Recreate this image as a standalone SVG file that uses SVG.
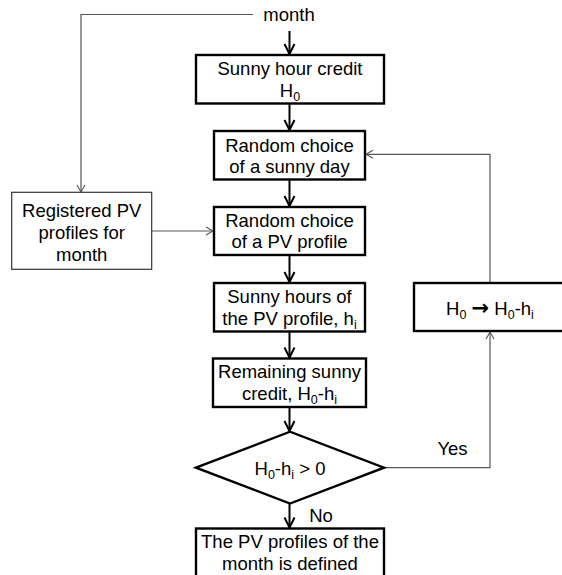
<svg xmlns="http://www.w3.org/2000/svg" width="562" height="575" viewBox="0 0 562 575">
<defs>
<style>
text{font-family:"Liberation Sans",Arial,sans-serif;font-size:18.5px;fill:#000;text-anchor:middle}
.sub{font-size:12.5px}
.arr{font-family:"DejaVu Sans","Liberation Sans",sans-serif;font-weight:bold;font-size:21px}
.box{fill:#fff;stroke:#000;stroke-width:2.4}
.thinbox{fill:#fff;stroke:#333;stroke-width:1.2}
.main{fill:none;stroke:#000;stroke-width:2}
.thin{fill:none;stroke:#555;stroke-width:1.2}
</style>
<marker id="ah" markerUnits="userSpaceOnUse" markerWidth="14" markerHeight="14" viewBox="-12 -7 14 14" refX="0" refY="0" orient="auto">
<path d="M-10,-5 L0,0 L-10,5" fill="none" stroke="#000" stroke-width="2"/>
</marker>
<marker id="ahs" markerUnits="userSpaceOnUse" markerWidth="12" markerHeight="12" viewBox="-10 -6 12 12" refX="0" refY="0" orient="auto">
<path d="M-7,-4 L0,0 L-7,4" fill="none" stroke="#555" stroke-width="1.1"/>
</marker>
</defs>

<g id="connectors">
<polyline class="thin" points="253,14.5 81,14.5 81,192" marker-end="url(#ahs)"/>
<line class="main" x1="289.5" y1="31" x2="289.5" y2="54" marker-end="url(#ah)"/>
<line class="main" x1="289.5" y1="104" x2="289.5" y2="130" marker-end="url(#ah)"/>
<line class="main" x1="289.5" y1="180" x2="289.5" y2="206" marker-end="url(#ah)"/>
<line class="thin" x1="152" y1="231" x2="213" y2="231" marker-end="url(#ahs)"/>
<line class="main" x1="289.5" y1="256" x2="289.5" y2="282" marker-end="url(#ah)"/>
<line class="main" x1="289.5" y1="332" x2="289.5" y2="357.5" marker-end="url(#ah)"/>
<line class="main" x1="289.5" y1="407.5" x2="289.5" y2="431" marker-end="url(#ah)"/>
<line class="main" x1="289.5" y1="504" x2="289.5" y2="527.5" marker-end="url(#ah)"/>
<polyline class="thin" points="385,467.7 490,467.7 490,332" marker-end="url(#ahs)"/>
<polyline class="thin" points="490,282 490,154.3 366,154.3" marker-end="url(#ahs)"/>
<text x="452.5" y="455">Yes</text>
<text x="321" y="522">No</text>
</g>

<g id="month">
<text x="289" y="21">month</text>
</g>

<g id="credit">
<rect class="box" x="196" y="55" width="188" height="48.5"/>
<text x="290" y="75">Sunny hour credit</text>
<text x="290" y="96.7">H<tspan class="sub" dy="4">0</tspan></text>
</g>

<g id="sunnyday">
<rect class="box" x="214" y="131" width="151" height="48.5"/>
<text x="289.5" y="151.7">Random choice</text>
<text x="289.5" y="173.3">of a sunny day</text>
</g>

<g id="registered">
<rect class="thinbox" x="11.7" y="192.3" width="140" height="77"/>
<text x="81.7" y="216.6">Registered PV</text>
<text x="81.7" y="239">profiles for</text>
<text x="81.7" y="260.6">month</text>
</g>

<g id="pvprofile">
<rect class="box" x="214" y="207" width="151" height="48"/>
<text x="289.5" y="226.7">Random choice</text>
<text x="289.5" y="248.3">of a PV profile</text>
</g>

<g id="sunnyhours">
<rect class="box" x="214" y="283" width="151" height="48.5"/>
<text x="289.5" y="302.7">Sunny hours of</text>
<text x="289.5" y="325">the PV profile, h<tspan class="sub" dy="4">i</tspan></text>
</g>

<g id="update">
<rect class="box" x="414" y="283" width="154" height="48"/>
<text x="490" y="315">H<tspan class="sub" dy="4">0</tspan><tspan dy="-4"> </tspan><tspan class="arr">→</tspan><tspan> H</tspan><tspan class="sub" dy="4">0</tspan><tspan dy="-4">-h</tspan><tspan class="sub" dy="4">i</tspan></text>
</g>

<g id="remaining">
<rect class="box" x="213" y="358.5" width="153" height="48.5"/>
<text x="289.5" y="378.3">Remaining sunny</text>
<text x="289.5" y="400">credit, H<tspan class="sub" dy="4">0</tspan><tspan dy="-4">-h</tspan><tspan class="sub" dy="4">i</tspan></text>
</g>

<g id="decision">
<polygon class="box" points="196,467.7 290,431.7 384,467.7 290,503.5"/>
<text x="290" y="475">H<tspan class="sub" dy="4">0</tspan><tspan dy="-4">-h</tspan><tspan class="sub" dy="4">i</tspan><tspan dy="-4"> &gt; 0</tspan></text>
</g>

<g id="defined">
<rect class="box" x="196" y="528.5" width="188" height="52"/>
<text x="290" y="548.3">The PV profiles of the</text>
<text x="290" y="570">month is defined</text>
</g>
</svg>
